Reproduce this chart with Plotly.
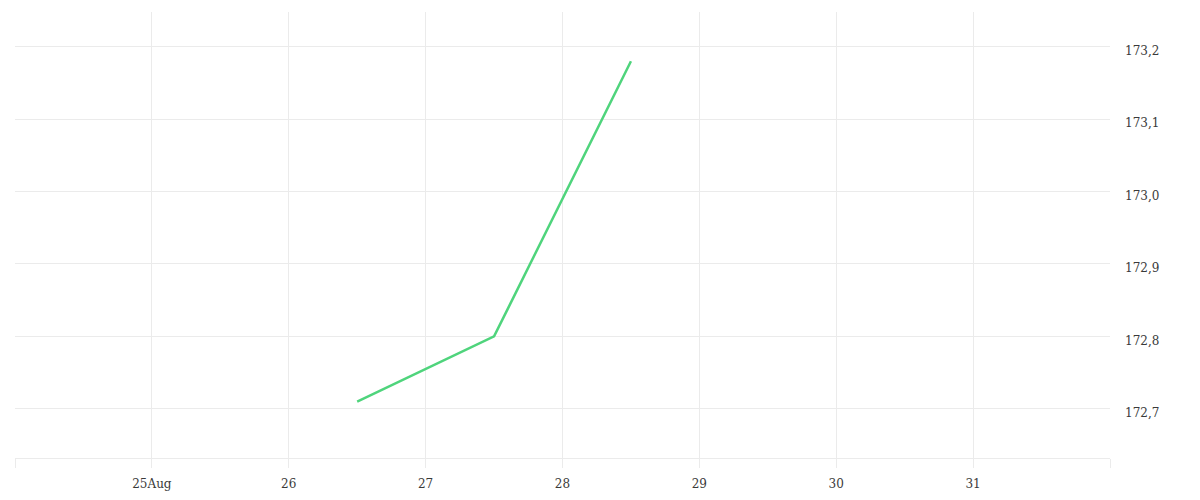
import plotly.graph_objects as go

dates = ["2024-08-26 12:00", "2024-08-27 12:00", "2024-08-28 12:00"]
values = [172.71, 172.80, 173.18]

tick_vals = ["2024-08-24", "2024-08-25", "2024-08-26", "2024-08-27", "2024-08-28",
             "2024-08-29", "2024-08-30", "2024-08-31", "2024-09-01"]
tick_text = ["", "25Aug", "26", "27", "28", "29", "30", "31", ""]
y_ticks = [172.7, 172.8, 172.9, 173.0, 173.1, 173.2]

fig = go.Figure()
fig.add_trace(go.Scatter(x=dates, y=values, mode="lines",
                         line=dict(color="#4fd47c", width=2.5), showlegend=False))

grid = "#ebebeb"
fig.update_layout(
    width=1200, height=500,
    margin=dict(l=7, r=98, t=4, b=50),
    paper_bgcolor="white", plot_bgcolor="white",
    separators=",.",
    font=dict(family="DejaVu Serif", size=12, color="#3a3a3a"),
    xaxis=dict(type="date", range=["2024-08-24", "2024-09-01"],
               tickmode="array", tickvals=tick_vals, ticktext=tick_text,
               showgrid=True, gridcolor=grid, gridwidth=1,
               showline=True, linecolor=grid, linewidth=1,
               ticks="outside", ticklen=9, tickcolor=grid, tickwidth=1,
               zeroline=False, ticklabelstandoff=6),
    yaxis=dict(side="right", range=[172.632, 173.248],
               tickmode="array", tickvals=y_ticks, tickformat=".1f",
               showgrid=True, gridcolor=grid, gridwidth=1,
               showline=False, zeroline=False, ticks="", ticklabelstandoff=14,
               ticklabelshift=4),
)
fig.write_html("out.html")
